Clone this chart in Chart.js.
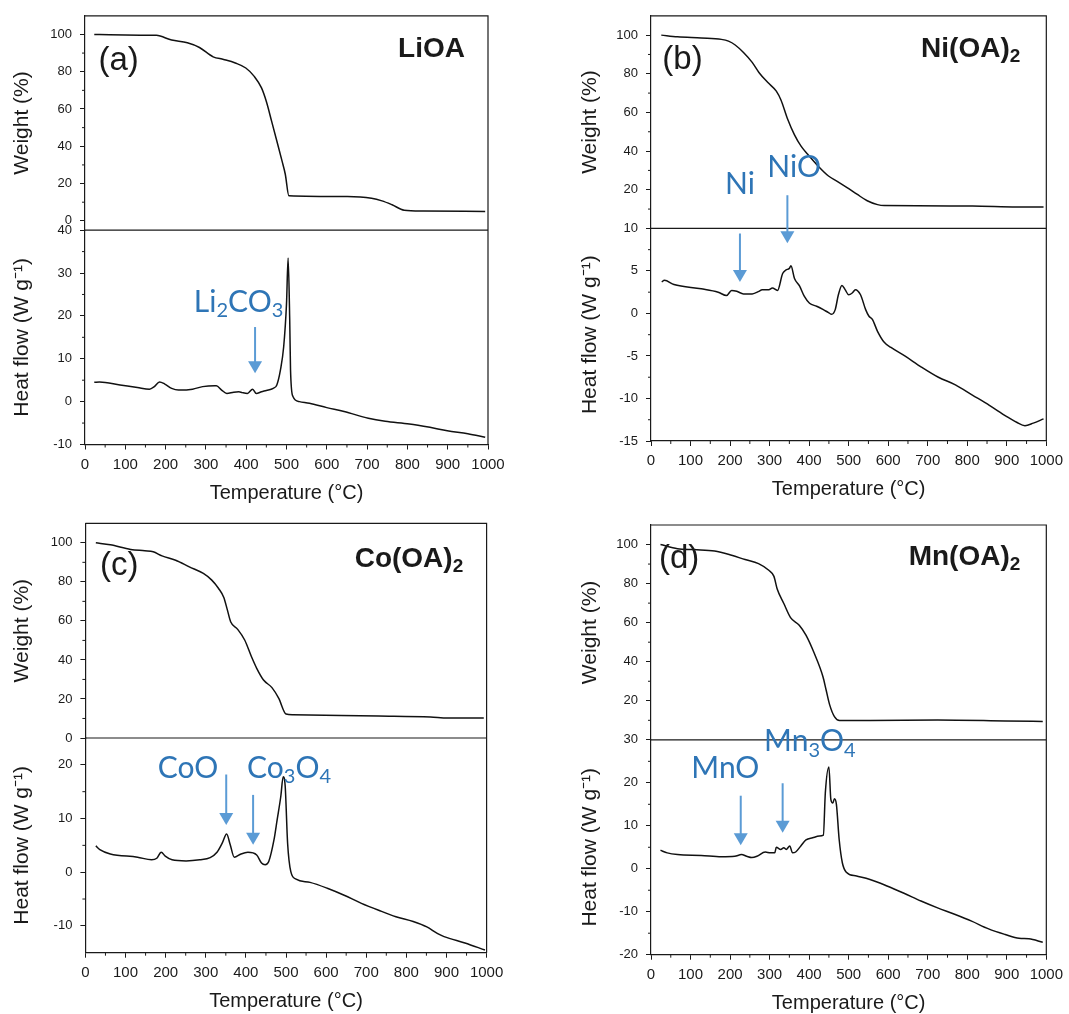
<!DOCTYPE html>
<html>
<head>
<meta charset="utf-8">
<title>TGA / DSC of metal oleates</title>
<script src="https://cdn.jsdelivr.net/npm/chart.js@4.4.1/dist/chart.umd.min.js"></script>
<style>
  html, body { margin: 0; padding: 0; background: #fff; }
  body { position: relative; width: 1069px; height: 1014px; overflow: hidden; }
  canvas { position: absolute; }
</style>
</head>
<body>
<canvas id="chart-a" width="534" height="507" style="left:0;top:0"></canvas>
<canvas id="chart-b" width="535" height="507" style="left:534px;top:0"></canvas>
<canvas id="chart-c" width="534" height="510" style="left:0;top:507px"></canvas>
<canvas id="chart-d" width="535" height="510" style="left:534px;top:507px"></canvas>
<script>
const tempTicks = [0, 100, 200, 300, 400, 500, 600, 700, 800, 900, 1000];
const weightTicks = [0, 20, 40, 60, 80, 100];
const weightTicksUpper = [20, 40, 60, 80, 100];
const heatTicksA = [-10, 0, 10, 20, 30, 40];
const heatTicksB = [-15, -10, -5, 0, 5, 10];
const heatTicksC = [-10, 0, 10, 20];
const heatTicksD = [-20, -10, 0, 10, 20, 30];

// LiOA
const liTempW = [23, 61, 138, 177, 215, 254, 284, 318, 344, 373, 399, 420, 438, 450, 463, 476, 489, 497, 506, 651, 711, 737, 762, 792, 839, 993];
const liWeight = [100, 99.8, 99.6, 99.5, 97, 95.5, 93, 88, 86.6, 84.7, 82, 77.5, 71.3, 64, 53.5, 42.8, 32, 25, 13.4, 13, 12.1, 10.7, 8.6, 5.7, 5.3, 5];
const liTempH = [23, 36, 87, 130, 160, 172, 185, 198, 215, 232, 267, 292, 322, 326, 339, 352, 369, 382, 390, 403, 416, 425, 438, 450, 467, 476, 485, 493, 500, 504, 508, 510, 516, 532, 557, 600, 643, 703, 745, 805, 856, 899, 950, 993];
const liHeat = [4.5, 4.6, 3.9, 3.3, 2.9, 3.5, 4.6, 4.1, 3.1, 2.7, 2.9, 3.5, 3.7, 3.7, 2.7, 1.9, 2.2, 2.3, 2.1, 1.9, 2.9, 1.9, 2.3, 2.6, 3.1, 3.9, 7.4, 12.8, 22.8, 33.5, 19, 7.4, 1.2, 0, -0.4, -1.4, -2.3, -3.9, -4.6, -5.2, -6, -6.8, -7.5, -8.3];

// Ni(OA)2
const niTempW = [26, 67, 127, 178, 196, 213, 234, 256, 273, 295, 317, 329, 345, 363, 380, 397, 423, 449, 470, 496, 521, 547, 573, 590, 813, 925, 993];
const niWeight = [100, 99.1, 98.5, 97.8, 96.9, 94.9, 91, 85.9, 80.7, 75.6, 71, 66.3, 56.9, 48.4, 42.4, 38.2, 32.2, 27.1, 24.5, 21.1, 17.7, 14.3, 12.3, 11.8, 11.6, 11.1, 11.1];
const niTempH = [27, 34, 58, 127, 170, 191, 204, 217, 234, 256, 273, 281, 298, 307, 320, 333, 341, 350, 354, 363, 376, 388, 401, 419, 436, 449, 457, 466, 474, 483, 491, 500, 509, 517, 530, 543, 551, 560, 573, 590, 607, 642, 684, 727, 770, 813, 856, 899, 925, 946, 967, 993];
const niHeat = [3.7, 3.9, 3.4, 2.9, 2.5, 2.1, 2.7, 2.6, 2.3, 2.3, 2.6, 2.8, 2.8, 3.0, 2.7, 4.7, 5.1, 5.3, 5.6, 4.1, 3.2, 2.0, 1.2, 0.85, 0.45, 0.1, -0.1, 0.45, 2.2, 3.3, 2.8, 2.2, 2.4, 2.8, 2.2, 0.45, -0.3, -0.7, -2.1, -3.4, -4.0, -5.0, -6.3, -7.5, -8.4, -9.6, -10.8, -12.1, -12.8, -13.2, -12.9, -12.4];

// Co(OA)2
const coTempW = [26, 62, 113, 148, 169, 191, 225, 259, 294, 315, 332, 345, 354, 362, 379, 397, 414, 427, 444, 465, 482, 500, 517, 731, 860, 903, 993];
const coWeight = [100, 99, 96.6, 95.9, 95.4, 93.3, 91.1, 87.7, 84.3, 80.9, 76.6, 72, 65.5, 59.6, 55.8, 50.2, 41.6, 35.7, 29.7, 25.8, 20.3, 12.3, 11.9, 11.3, 10.8, 10.2, 10.2];
const coTempH = [26, 36, 62, 130, 165, 178, 189, 199, 216, 251, 285, 311, 328, 341, 352, 361, 371, 388, 405, 427, 439, 448, 457, 470, 478, 487, 493, 498, 504, 512, 525, 560, 603, 645, 688, 731, 774, 817, 851, 877, 894, 946, 996];
const coHeat = [4.9, 4.2, 3.4, 2.8, 2.3, 2.6, 3.7, 3.0, 2.3, 2.1, 2.3, 2.7, 3.7, 5.4, 7.1, 5.1, 2.8, 3.4, 3.7, 3.2, 1.7, 1.4, 2.0, 6.0, 9.8, 14.1, 17.8, 16, 5.4, 0.1, -1.3, -1.9, -3.0, -4.3, -5.8, -7.1, -8.3, -9.2, -10.2, -11.4, -12.0, -13.2, -14.5];

// Mn(OA)2
const mnTempW = [24, 67, 109, 161, 204, 238, 272, 298, 311, 319, 336, 353, 375, 392, 413, 435, 443, 452, 464, 477, 554, 725, 896, 991];
const mnWeight = [100, 97.9, 97.4, 96.7, 94.5, 92.3, 90.2, 86.8, 83.7, 77.4, 69.8, 62.6, 58.7, 53.6, 44.3, 32.3, 25.5, 17.9, 11.9, 9.9, 9.9, 10.2, 9.7, 9.4];
const mnTempH = [24, 41, 67, 127, 178, 212, 229, 242, 255, 268, 289, 302, 313, 317, 328, 336, 342, 351, 358, 366, 379, 392, 409, 426, 436, 441, 450, 455, 460, 464, 469, 476, 484, 494, 520, 554, 597, 640, 683, 725, 768, 811, 854, 896, 931, 956, 991];
const mnHeat = [4.3, 3.7, 3.3, 3.1, 2.8, 2.9, 3.3, 2.9, 2.6, 2.9, 3.9, 3.7, 3.7, 5.0, 4.5, 4.9, 4.5, 5.3, 3.7, 3.9, 5.3, 6.7, 7.2, 7.6, 7.8, 17.7, 23.7, 16.1, 15.3, 16.3, 15.0, 6.8, 1.4, -0.8, -1.7, -2.5, -4.0, -5.7, -7.5, -9.1, -10.6, -12.2, -14.0, -15.3, -16.2, -16.3, -17.1];

const INK = "#1a1a1a";
const BLUE_TEXT = "#2e75b6";
const BLUE_ARROW = "#5b9bd5";
const AXIS_FONT = "'Liberation Sans', Arial, sans-serif";
const NOTE_FONT = "Lato, 'Open Sans', sans-serif";

Chart.defaults.font.family = AXIS_FONT;
Chart.defaults.color = INK;

function pairs(xs, ys) {
  return xs.map((x, i) => ({ x: x, y: ys[i] }));
}

// draws "Li_2CO_3" style strings, digit after "_" as subscript
function richText(ctx, str, x, y, size, family, weight, align) {
  const sub = Math.round(size * 0.68);
  const runs = str.split(/_(\d)/).map((t, i) => ({ t: t, sub: i % 2 === 1 }));
  let total = 0;
  for (const r of runs) {
    ctx.font = `${weight} ${r.sub ? sub : size}px ${family}`;
    r.w = ctx.measureText(r.t).width;
    total += r.w;
  }
  let cx = align === "center" ? x - total / 2 : align === "right" ? x - total : x;
  ctx.textAlign = "left";
  ctx.textBaseline = "alphabetic";
  for (const r of runs) {
    ctx.font = `${weight} ${r.sub ? sub : size}px ${family}`;
    ctx.fillText(r.t, cx, r.sub ? y + size * 0.18 : y);
    cx += r.w;
  }
}

function makePanel(p) {
  const minorSteps = { x: 50, yW: 10, yH: p.heatMinor };

  const deco = {
    id: "deco",
    afterDraw(chart) {
      const { ctx, chartArea: a, scales } = chart;
      const xs = scales.x;
      const yH = scales.yH;
      ctx.save();

      // box edges not covered by the axes, plus the line between the stacked plots
      ctx.strokeStyle = INK;
      ctx.lineWidth = 1.2;
      ctx.beginPath();
      ctx.moveTo(a.left, a.top);
      ctx.lineTo(a.right, a.top);
      ctx.lineTo(a.right, a.bottom);
      ctx.moveTo(a.left, scales.yW.bottom);
      ctx.lineTo(a.right, scales.yW.bottom);
      ctx.stroke();

      // minor ticks
      ctx.lineWidth = 1;
      ctx.beginPath();
      for (const id of ["x", "yW", "yH"]) {
        const s = scales[id];
        const step = minorSteps[id];
        const majors = s.ticks.map((t) => t.value);
        for (let v = Math.ceil(s.min / step) * step; v < s.max - 1e-6; v += step) {
          if (v <= s.min + 1e-6 || majors.some((m) => Math.abs(m - v) < 1e-6)) continue;
          const px = s.getPixelForValue(v);
          if (id === "x") {
            ctx.moveTo(px, a.bottom);
            ctx.lineTo(px, a.bottom + 3);
          } else {
            ctx.moveTo(a.left - 3, px);
            ctx.lineTo(a.left, px);
          }
        }
      }
      ctx.stroke();

      // panel letter and compound name
      ctx.fillStyle = INK;
      ctx.font = `33px ${AXIS_FONT}`;
      ctx.textAlign = "left";
      ctx.textBaseline = "alphabetic";
      ctx.fillText(p.letter, a.left + p.letterAt[0], a.top + p.letterAt[1]);
      richText(ctx, p.title, a.right - p.titleAt[0], a.top + p.titleAt[1], 28, AXIS_FONT, "bold", "right");

      // phase labels with arrows
      ctx.fillStyle = BLUE_TEXT;
      for (const n of p.notes) {
        richText(ctx, n.text, xs.getPixelForValue(n.t), yH.getPixelForValue(n.v), 30, NOTE_FONT, "normal", n.align);
      }
      ctx.strokeStyle = BLUE_ARROW;
      ctx.fillStyle = BLUE_ARROW;
      ctx.lineWidth = 2;
      for (const ar of p.arrows) {
        const px = xs.getPixelForValue(ar.t);
        const y0 = yH.getPixelForValue(ar.from);
        const y1 = yH.getPixelForValue(ar.to);
        ctx.beginPath();
        ctx.moveTo(px, y0);
        ctx.lineTo(px, y1 - 10);
        ctx.stroke();
        ctx.beginPath();
        ctx.moveTo(px - 7, y1 - 12);
        ctx.lineTo(px + 7, y1 - 12);
        ctx.lineTo(px, y1);
        ctx.closePath();
        ctx.fill();
      }
      ctx.restore();
    },
  };

  const yAxis = (min, max, ticks, title) => ({
    type: "linear",
    position: "left",
    stack: "tg",
    stackWeight: 1,
    min: min,
    max: max,
    afterBuildTicks: (s) => {
      s.ticks = ticks.map((v) => ({ value: v }));
    },
    afterFit: (s) => {
      s.width = p.yWidth;
    },
    ticks: { callback: (v) => String(v), font: { size: 13 }, color: INK, padding: 8 },
    grid: { drawOnChartArea: false, tickLength: 5, tickColor: INK, tickWidth: 1 },
    border: { color: INK, width: 1.2 },
    title: { display: true, text: title, font: { size: 21 }, color: INK, padding: { top: 10, bottom: 0 } },
  });

  return new Chart(document.getElementById(p.canvas), {
    type: "line",
    data: {
      datasets: [
        { data: pairs(p.tempW, p.weight), yAxisID: "yW" },
        { data: pairs(p.tempH, p.heat), yAxisID: "yH" },
      ],
    },
    options: {
      responsive: false,
      animation: false,
      devicePixelRatio: 1,
      layout: { padding: p.pad },
      elements: {
        point: { radius: 0 },
        line: { borderColor: "#111", borderWidth: 1.5, cubicInterpolationMode: "monotone" },
      },
      plugins: { legend: { display: false }, tooltip: { enabled: false } },
      scales: {
        x: {
          type: "linear",
          min: 0,
          max: 1000,
          afterBuildTicks: (s) => {
            s.ticks = tempTicks.map((v) => ({ value: v }));
          },
          afterFit: (s) => {
            s.height = 60.5;
          },
          ticks: { callback: (v) => String(v), font: { size: 15 }, color: INK, padding: 6, maxRotation: 0, autoSkip: false },
          grid: { drawOnChartArea: false, tickLength: 5, tickColor: INK, tickWidth: 1 },
          border: { color: INK, width: 1.2 },
          title: { display: true, text: "Temperature (°C)", font: { size: 20 }, color: INK, padding: { top: 0, bottom: 0 } },
        },
        yH: yAxis(p.heatRange[0], p.heatRange[1], p.heatTicks, "Heat flow (W g⁻¹)"),
        yW: yAxis(p.weightRange[0], p.weightRange[1], p.weightTicks, "Weight (%)"),
      },
    },
    plugins: [deco],
  });
}

makePanel({
  canvas: "chart-a",
  pad: { left: 0, right: 46, top: 14, bottom: 2 },
  yWidth: 85,
  tempW: liTempW, weight: liWeight, tempH: liTempH, heat: liHeat,
  weightRange: [-5, 110], weightTicks: weightTicks,
  heatRange: [-10, 40], heatTicks: heatTicksA, heatMinor: 5,
  letter: "(a)", letterAt: [13.5, 54.5],
  title: "LiOA", titleAt: [23, 41],
  notes: [{ text: "Li_2CO_3", t: 270, v: 21, align: "left" }],
  arrows: [{ t: 422, from: 17.4, to: 6.6 }],
});

makePanel({
  canvas: "chart-b",
  pad: { left: 34, right: 16.5, top: 11.7, bottom: 5.5 },
  yWidth: 83,
  tempW: niTempW, weight: niWeight, tempH: niTempH, heat: niHeat,
  weightRange: [0, 110], weightTicks: weightTicksUpper,
  heatRange: [-15, 10], heatTicks: heatTicksB, heatMinor: 2.5,
  letter: "(b)", letterAt: [11.3, 53.5],
  title: "Ni(OA)_2", titleAt: [26, 41],
  notes: [
    { text: "Ni", t: 225, v: 14.1, align: "center" },
    { text: "NiO", t: 362, v: 16.1, align: "center" },
  ],
  arrows: [
    { t: 225, from: 9.4, to: 3.7 },
    { t: 345, from: 13.9, to: 8.25 },
  ],
});

makePanel({
  canvas: "chart-c",
  pad: { left: 0, right: 47.4, top: 16.3, bottom: 3.8 },
  yWidth: 85.4,
  tempW: coTempW, weight: coWeight, tempH: coTempH, heat: coHeat,
  weightRange: [0, 110], weightTicks: weightTicks,
  heatRange: [-15, 25], heatTicks: heatTicksC, heatMinor: 5,
  letter: "(c)", letterAt: [14.5, 52],
  title: "Co(OA)_2", titleAt: [23.4, 43.4],
  notes: [
    { text: "CoO", t: 256, v: 17.5, align: "center" },
    { text: "Co_3O_4", t: 403, v: 17.6, align: "left" },
  ],
  arrows: [
    { t: 351, from: 18.2, to: 8.8 },
    { t: 418, from: 14.4, to: 5.1 },
  ],
});

makePanel({
  canvas: "chart-d",
  pad: { left: 34, right: 16.1, top: 18, bottom: 1.8 },
  yWidth: 83,
  tempW: mnTempW, weight: mnWeight, tempH: mnTempH, heat: mnHeat,
  weightRange: [0, 110], weightTicks: weightTicksUpper,
  heatRange: [-20, 30], heatTicks: heatTicksD, heatMinor: 5,
  letter: "(d)", letterAt: [8, 42.5],
  title: "Mn(OA)_2", titleAt: [26, 40],
  notes: [
    { text: "MnO", t: 188, v: 21.1, align: "center" },
    { text: "Mn_3O_4", t: 286, v: 27.3, align: "left" },
  ],
  arrows: [
    { t: 227, from: 17.0, to: 5.5 },
    { t: 333, from: 19.9, to: 8.4 },
  ],
});
</script>
</body>
</html>
